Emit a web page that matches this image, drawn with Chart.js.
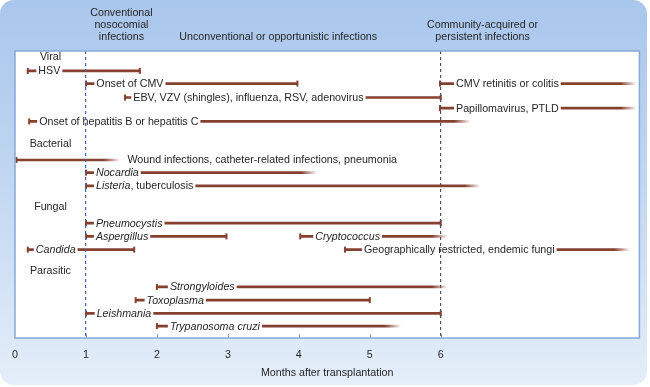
<!DOCTYPE html>
<html>
<head>
<meta charset="utf-8">
<script src="https://cdn.jsdelivr.net/npm/chart.js@4"></script>
<style>
html, body { margin: 0; padding: 0; background: #fff; }
#wrap { width: 650px; height: 387px; }
</style>
</head>
<body>
<div id="wrap"><canvas id="timeline"></canvas></div>
<script>
// infections shown on the timeline (*...* = italic)
const infections = [
    'HSV', 'Onset of CMV', 'CMV retinitis or colitis',
    'EBV, VZV (shingles), influenza, RSV, adenovirus', 'Papillomavirus, PTLD',
    'Onset of hepatitis B or hepatitis C',
    'Wound infections, catheter-related infections, pneumonia',
    '*Nocardia*', '*Listeria*, tuberculosis',
    '*Pneumocystis*', '*Aspergillus*', '*Cryptococcus*', '*Candida*',
    'Geographically restricted, endemic fungi',
    '*Strongyloides*', '*Toxoplasma*', '*Leishmania*', '*Trypanosoma cruzi*'
];
const rows = [1.5, 2.45, 2.45, 3.5, 4.3, 5.3, 8.2, 9.15, 10.15, 12.95, 13.95, 13.95, 14.95, 14.95, 17.75, 18.75, 19.75, 20.7];
const startMonth = [0.18, 1, 5.99, 1.55, 5.99, 0.2, 0.02, 1, 1, 1, 1, 4.02, 0.18, 4.65, 2, 1.7, 1, 2];
const endMonth = [1.76, 3.98, 8.76, 6, 8.76, 6.42, 1.48, 4.26, 6.56, 6, 2.98, 6.1, 1.68, 8.67, 6.1, 5, 6, 5.44];
const ongoing = [false, false, true, false, true, true, true, true, true, false, false, true, false, true, true, false, false, true];

const groups = ['Viral', 'Bacterial', 'Fungal', 'Parasitic'];
const groupRows = [0.45, 7.0, 11.7, 16.55];

const monthTicks = [0, 1, 2, 3, 4, 5, 6];
const periods = [
    ['Conventional', 'nosocomial', 'infections'],
    ['Unconventional or opportunistic infections'],
    ['Community-acquired or', 'persistent infections']
];

const lineColor = '#86402f';
const textColor = '#262626';
const fontFamily = '"Liberation Sans", Arial, Helvetica, sans-serif';
const fontSize = 10.7;

const bars = infections.map((t, i) => ({ x: [startMonth[i], endMonth[i]], y: rows[i] }));

function fadeFill(ctx) {
    const i = ctx.dataIndex;
    const chart = ctx.chart;
    if (ctx.type !== 'data' || !ongoing[i] || !chart.chartArea) return lineColor;
    const xs = chart.scales.x;
    const x0 = xs.getPixelForValue(startMonth[i]);
    const x1 = xs.getPixelForValue(endMonth[i]);
    const g = chart.ctx.createLinearGradient(x0, 0, x1, 0);
    g.addColorStop(0, lineColor);
    g.addColorStop(Math.max(0, 1 - 16 / (x1 - x0)), lineColor);
    g.addColorStop(1, 'rgba(134, 64, 47, 0)');
    return g;
}

function drawRich(ctx, str, x, y, draw) {
    const parts = str.split('*');
    let w = 0;
    parts.forEach((p, k) => {
        if (!p) return;
        ctx.font = (k % 2 ? 'italic ' : '') + fontSize + 'px ' + fontFamily;
        if (draw) ctx.fillText(p, x + w, y);
        w += ctx.measureText(p).width;
    });
    return w;
}

const decor = {
    id: 'decor',
    beforeDraw(chart, args, opts) {
        const { ctx, width, height, chartArea: a } = chart;
        ctx.save();
        ctx.fillStyle = '#fff';
        ctx.fillRect(0, 0, width, height);
        const g = ctx.createLinearGradient(0, 0, 0, height);
        g.addColorStop(0, '#a9c6ec');
        g.addColorStop(0.5, '#c3d8f2');
        g.addColorStop(1, '#e5eef9');
        ctx.fillStyle = g;
        ctx.beginPath();
        ctx.roundRect(0, 0, 647, 385, 14);
        ctx.fill();
        ctx.fillStyle = '#fff';
        ctx.fillRect(a.left, a.top, a.right - a.left, a.bottom - a.top);

        ctx.fillStyle = textColor;
        ctx.font = fontSize + 'px ' + fontFamily;
        ctx.textAlign = 'center';
        ctx.textBaseline = 'middle';
        periods.forEach((lines, k) => {
            const cx = chart.scales.x.getPixelForValue(opts.periodCenter[k]);
            lines.forEach((t, j) => ctx.fillText(t, cx, a.top - 14 - (lines.length - 1 - j) * 12));
        });
        ctx.restore();
    },
    afterDatasetsDraw(chart, args, opts) {
        const { ctx } = chart;
        const xs = chart.scales.x, ys = chart.scales.y;
        const meta = chart.getDatasetMeta(0);
        ctx.save();
        // start / end caps of each bar
        ctx.strokeStyle = lineColor;
        ctx.lineWidth = 2;
        meta.data.forEach((bar, i) => {
            const caps = ongoing[i] ? [bar.base] : [bar.base, bar.x];
            caps.forEach(px => {
                ctx.beginPath();
                ctx.moveTo(px, bar.y - 3);
                ctx.lineTo(px, bar.y + 3);
                ctx.stroke();
            });
        });
        ctx.textBaseline = 'middle';
        ctx.textAlign = 'left';
        infections.forEach((t, i) => {
            const x = xs.getPixelForValue(startMonth[i]) + opts.textGap[i];
            const y = ys.getPixelForValue(rows[i]);
            const w = drawRich(ctx, t, x, y, false);
            ctx.fillStyle = '#fff';
            ctx.fillRect(x - 2, y - 3, w + 4, 6);
            ctx.fillStyle = textColor;
            drawRich(ctx, t, x, y + 0.5, true);
        });
        ctx.textAlign = 'center';
        ctx.font = fontSize + 'px ' + fontFamily;
        groups.forEach((t, k) => {
            ctx.fillText(t, xs.getPixelForValue(0.5), ys.getPixelForValue(groupRows[k]) + 0.5);
        });
        ctx.restore();
    },
    afterDraw(chart) {
        const { ctx, chartArea: a } = chart;
        const xs = chart.scales.x;
        ctx.save();
        ctx.strokeStyle = '#86a9d8';
        ctx.lineWidth = 1.5;
        ctx.strokeRect(a.left, a.top, a.right - a.left, a.bottom - a.top);
        ctx.lineWidth = 1;
        monthTicks.slice(1).forEach(m => {
            const px = Math.round(xs.getPixelForValue(m)) + 0.5;
            ctx.beginPath();
            ctx.moveTo(px, a.bottom - 4);
            ctx.lineTo(px, a.bottom);
            ctx.stroke();
        });
        ctx.restore();
    }
};

new Chart(document.getElementById('timeline'), {
    type: 'bar',
    data: {
        datasets: [{
            data: bars,
            backgroundColor: fadeFill,
            borderWidth: 0,
            barThickness: 2
        }]
    },
    options: {
        indexAxis: 'y',
        responsive: true,
        maintainAspectRatio: false,
        animation: false,
        layout: {
            padding: { left: 15, right: 9, top: 51, bottom: 5.3 }
        },
        scales: {
            x: {
                type: 'linear',
                min: 0,
                max: 8.8,
                grid: {
                    z: 1,
                    drawTicks: false,
                    tickLength: 0,
                    lineWidth: 1.2,
                    color: (c) => c.tick && c.tick.value === 1 ? '#4462a6' :
                        (c.tick && c.tick.value === 6 ? '#4d525c' : 'rgba(0,0,0,0)')
                },
                border: { display: false, dash: [3, 3] },
                ticks: {
                    stepSize: 1,
                    autoSkip: false,
                    maxRotation: 0,
                    padding: 10.6,
                    color: textColor,
                    font: { family: fontFamily, size: fontSize },
                    callback: (v) => monthTicks.includes(v) ? String(v) : ''
                },
                title: {
                    display: true,
                    text: 'Months after transplantation',
                    color: textColor,
                    padding: { top: -5.2, bottom: 2 },
                    font: { family: fontFamily, size: fontSize }
                }
            },
            y: {
                type: 'linear',
                display: false,
                reverse: true,
                min: 0,
                max: 21.6,
                offset: false
            }
        },
        plugins: {
            legend: { display: false },
            tooltip: { enabled: false },
            decor: {
                periodCenter: [1.5, 3.71, 6.59],
                textGap: [10.6, 10.4, 16, 8.3, 16, 10, 111, 10, 10, 10, 10, 15, 8, 19, 13, 11, 10.7, 13]
            }
        }
    },
    plugins: [decor]
});
</script>
</body>
</html>
